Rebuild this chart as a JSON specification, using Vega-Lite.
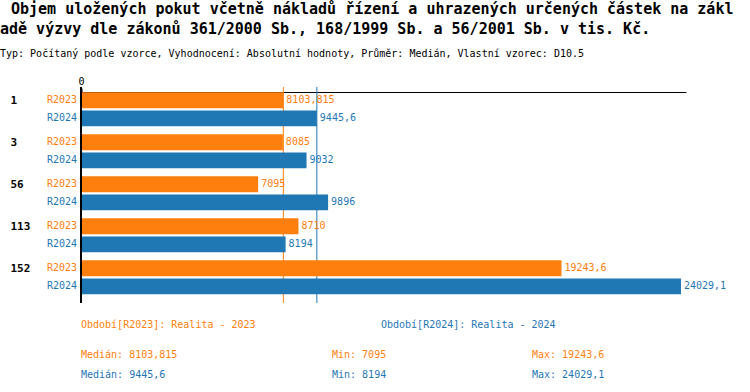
{
  "$schema": "https://vega.github.io/schema/vega-lite/v6.json",
  "padding": {"left": 0, "top": 2, "right": 5, "bottom": 0},
  "title": {
    "text": ["\u2800Objem uložených pokut včetně nákladů řízení a uhrazených určených částek na zákl", "adě výzvy dle zákonů 361/2000 Sb., 168/1999 Sb. a 56/2001 Sb. v tis. Kč."],
    "subtitle": "Typ: Počítaný podle vzorce, Vyhodnocení: Absolutní hodnoty, Průměr: Medián, Vlastní vzorec: D10.5",
    "anchor": "start",
    "frame": "bounds",
    "dx": -10,
    "font": "DejaVu Sans Mono",
    "fontSize": 15,
    "fontWeight": "bold",
    "lineHeight": 20,
    "color": "black",
    "subtitleFont": "DejaVu Sans Mono",
    "subtitleFontSize": 10,
    "subtitleColor": "black",
    "subtitlePadding": 12,
    "offset": 17
  },
  "spacing": 10,
  "vconcat": [
    {
      "width": 605,
      "height": 216,
      "data": {"values": [
        {"group": "1", "series": "R2023", "value": 8103.815, "label": "8103,815"},
        {"group": "1", "series": "R2024", "value": 9445.6, "label": "9445,6"},
        {"group": "3", "series": "R2023", "value": 8085, "label": "8085"},
        {"group": "3", "series": "R2024", "value": 9032, "label": "9032"},
        {"group": "56", "series": "R2023", "value": 7095, "label": "7095"},
        {"group": "56", "series": "R2024", "value": 9896, "label": "9896"},
        {"group": "113", "series": "R2023", "value": 8710, "label": "8710"},
        {"group": "113", "series": "R2024", "value": 8194, "label": "8194"},
        {"group": "152", "series": "R2023", "value": 19243.6, "label": "19243,6"},
        {"group": "152", "series": "R2024", "value": 24029.1, "label": "24029,1"}
      ]},
      "layer": [
        {
          "mark": {"type": "rule", "strokeWidth": 1},
          "encoding": {
            "x": {"aggregate": "median", "field": "value", "type": "quantitative", "title": null,
                  "scale": {"domain": [0, 24230], "nice": false},
                  "axis": {"orient": "top", "values": [0], "title": null, "grid": false, "offset": -5, "tickSize": 4, "tickWidth": 2, "tickColor": "black", "domainColor": "black", "domainWidth": 1, "labelFont": "DejaVu Sans Mono", "labelFontSize": 10, "labelColor": "black", "labelPadding": 2, "labelFlush": false}},
            "color": {"field": "series", "type": "nominal", "scale": {"domain": ["R2023", "R2024"], "range": ["#ff7f0e", "#1f77b4"]}, "legend": null}
          }
        },
        {
          "mark": {"type": "bar"},
          "encoding": {
            "y": {"field": "group", "type": "nominal", "sort": ["1", "3", "56", "113", "152"],
                  "scale": {"paddingInner": 0.1905, "paddingOuter": 0.1667, "align": 0.38},
                  "axis": {"title": null, "orient": "left", "ticks": false, "tickSize": 0, "domain": false, "labelAlign": "left", "labelPadding": 71, "labelOffset": -8, "labelFont": "DejaVu Sans Mono", "labelFontWeight": "bold", "labelFontSize": 11, "labelColor": "black", "labelBaseline": "middle"}},
            "yOffset": {"field": "series", "type": "nominal", "scale": {"paddingInner": 0.13, "paddingOuter": 0}},
            "x": {"field": "value", "type": "quantitative", "title": null},
            "color": {"field": "series", "type": "nominal", "scale": {"domain": ["R2023", "R2024"], "range": ["#ff7f0e", "#1f77b4"]}, "legend": null}
          }
        },
        {
          "mark": {"type": "text", "align": "left", "baseline": "middle", "dx": 3, "font": "DejaVu Sans Mono", "fontSize": 10},
          "encoding": {
            "y": {"field": "group", "type": "nominal", "sort": ["1", "3", "56", "113", "152"], "title": null},
            "yOffset": {"field": "series", "type": "nominal"},
            "x": {"field": "value", "type": "quantitative", "title": null},
            "text": {"field": "label"},
            "color": {"field": "series", "type": "nominal", "scale": {"domain": ["R2023", "R2024"], "range": ["#ff7f0e", "#1f77b4"]}, "legend": null}
          }
        },
        {
          "mark": {"type": "text", "align": "right", "baseline": "middle", "dx": -4, "font": "DejaVu Sans Mono", "fontSize": 10},
          "encoding": {
            "y": {"field": "group", "type": "nominal", "sort": ["1", "3", "56", "113", "152"], "title": null},
            "yOffset": {"field": "series", "type": "nominal"},
            "x": {"datum": 0},
            "text": {"field": "series"},
            "color": {"field": "series", "type": "nominal", "scale": {"domain": ["R2023", "R2024"], "range": ["#ff7f0e", "#1f77b4"]}, "legend": null}
          }
        },
        {
          "data": {"values": [{"zero": 0}]},
          "mark": {"type": "rule", "strokeWidth": 2, "color": "black"},
          "encoding": {"x": {"field": "zero", "type": "quantitative", "title": null}}
        }
      ]
    },
    {
      "width": 600,
      "height": 21,
      "data": {"values": [
        {"series": "R2023", "text": "Období[R2023]: Realita - 2023"},
        {"series": "R2024", "text": "Období[R2024]: Realita - 2024"}
      ]},
      "mark": {"type": "text", "align": "left", "baseline": "middle", "font": "DejaVu Sans Mono", "fontSize": 10},
      "encoding": {
        "x": {"field": "series", "type": "nominal", "bandPosition": 0, "scale": {"type": "band", "domain": ["R2023", "R2024"], "paddingInner": 0, "paddingOuter": 0}, "axis": null},
        "text": {"field": "text"},
        "color": {"field": "series", "type": "nominal", "scale": {"domain": ["R2023", "R2024"], "range": ["#ff7f0e", "#1f77b4"]}, "legend": null}
      }
    },
    {
      "width": 600,
      "height": 40,
      "data": {"values": [
        {"series": "R2023", "stat": "Medián", "text": "Medián: 8103,815"},
        {"series": "R2023", "stat": "Min", "text": "Min: 7095"},
        {"series": "R2023", "stat": "Max", "text": "Max: 19243,6"},
        {"series": "R2024", "stat": "Medián", "text": "Medián: 9445,6"},
        {"series": "R2024", "stat": "Min", "text": "Min: 8194"},
        {"series": "R2024", "stat": "Max", "text": "Max: 24029,1"}
      ]},
      "layer": [
        {
          "transform": [{"filter": "datum.stat === 'Medián'"}],
          "mark": {"type": "text", "align": "left", "baseline": "middle", "font": "DejaVu Sans Mono", "fontSize": 10},
          "encoding": {
            "x": {"field": "stat", "type": "nominal", "bandPosition": 0, "scale": {"type": "band", "domain": ["Medián", "Min", "Max"], "paddingInner": 0, "paddingOuter": 0}, "axis": null},
            "y": {"field": "series", "type": "nominal", "scale": {"type": "point", "domain": ["R2023", "R2024"], "padding": 0.5}, "axis": null},
            "text": {"field": "text"},
            "color": {"field": "series", "type": "nominal", "scale": {"domain": ["R2023", "R2024"], "range": ["#ff7f0e", "#1f77b4"]}, "legend": null}
          }
        },
        {
          "transform": [{"filter": "datum.stat !== 'Medián'"}],
          "mark": {"type": "text", "align": "left", "baseline": "middle", "font": "DejaVu Sans Mono", "fontSize": 10},
          "encoding": {
            "x": {"field": "stat", "type": "nominal", "bandPosition": 0.255, "scale": {"type": "band", "domain": ["Medián", "Min", "Max"], "paddingInner": 0, "paddingOuter": 0}, "axis": null},
            "y": {"field": "series", "type": "nominal", "scale": {"type": "point", "domain": ["R2023", "R2024"], "padding": 0.5}, "axis": null},
            "text": {"field": "text"},
            "color": {"field": "series", "type": "nominal", "scale": {"domain": ["R2023", "R2024"], "range": ["#ff7f0e", "#1f77b4"]}, "legend": null}
          }
        }
      ]
    }
  ],
  "config": {
    "view": {"stroke": null},
    "font": "DejaVu Sans Mono"
  }
}
